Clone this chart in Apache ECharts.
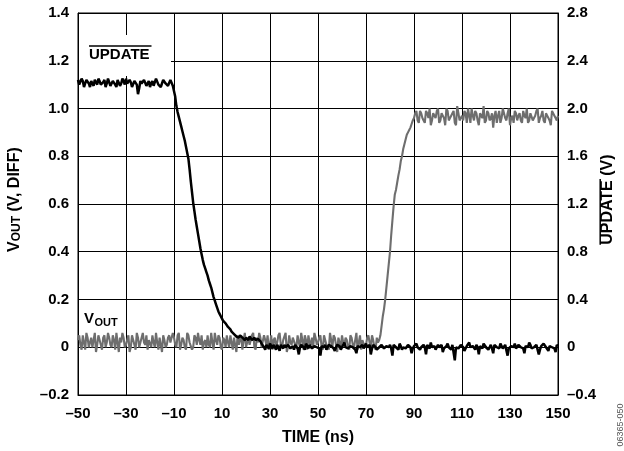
<!DOCTYPE html>
<html><head><meta charset="utf-8">
<script src="https://cdn.jsdelivr.net/npm/echarts/dist/echarts.min.js"></script>
<style>html,body{margin:0;padding:0;background:#fff}#c{width:624px;height:451px}</style>
</head><body><div id="c"></div>
<script>
// Sample times (ns), whole-ns samples
const timeNs = [
-50,-49,-48,-47,-46,-45,-44,-43,-42,-41,
-40,-39,-38,-37,-36,-35,-34,-33,-32,-31,
-30,-29,-28,-27,-26,-25,-24,-23,-22,-21,
-20,-19,-18,-17,-16,-15,-14,-13,-12,-11,
-10,-9,-8,-7,-6,-5,-4,-3,-2,-1,
0,1,2,3,4,5,6,7,8,9,
10,11,12,13,14,15,16,17,18,19,
20,21,22,23,24,25,26,27,28,29,
30,31,32,33,34,35,36,37,38,39,
40,41,42,43,44,45,46,47,48,49,
50,51,52,53,54,55,56,57,58,59,
60,61,62,63,64,65,66,67,68,69,
70,71,72,73,74,75,76,77,78,79,
80,81,82,83,84,85,86,87,88,89,
90,91,92,93,94,95,96,97,98,99,
100,101,102,103,104,105,106,107,108,109,
110,111,112,113,114,115,116,117,118,119,
120,121,122,123,124,125,126,127,128,129,
130,131,132,133,134,135,136,137,138,139,
140,141,142,143,144,145,146,147,148,149,
150];

// Sample times (ns), half-ns samples
const halfTimeNs = [
-49.5,-48.5,-47.5,-46.5,-45.5,-44.5,-43.5,-42.5,-41.5,-40.5,
-39.5,-38.5,-37.5,-36.5,-35.5,-34.5,-33.5,-32.5,-31.5,-30.5,
-29.5,-28.5,-27.5,-26.5,-25.5,-24.5,-23.5,-22.5,-21.5,-20.5,
-19.5,-18.5,-17.5,-16.5,-15.5,-14.5,-13.5,-12.5,-11.5,-10.5,
-9.5,-8.5,-7.5,-6.5,-5.5,-4.5,-3.5,-2.5,-1.5,-0.5,
0.5,1.5,2.5,3.5,4.5,5.5,6.5,7.5,8.5,9.5,
10.5,11.5,12.5,13.5,14.5,15.5,16.5,17.5,18.5,19.5,
20.5,21.5,22.5,23.5,24.5,25.5,26.5,27.5,28.5,29.5,
30.5,31.5,32.5,33.5,34.5,35.5,36.5,37.5,38.5,39.5,
40.5,41.5,42.5,43.5,44.5,45.5,46.5,47.5,48.5,49.5,
50.5,51.5,52.5,53.5,54.5,55.5,56.5,57.5,58.5,59.5,
60.5,61.5,62.5,63.5,64.5,65.5,66.5,67.5,68.5,69.5,
70.5,71.5,72.5,73.5,74.5,75.5,76.5,77.5,78.5,79.5,
80.5,81.5,82.5,83.5,84.5,85.5,86.5,87.5,88.5,89.5,
90.5,91.5,92.5,93.5,94.5,95.5,96.5,97.5,98.5,99.5,
100.5,101.5,102.5,103.5,104.5,105.5,106.5,107.5,108.5,109.5,
110.5,111.5,112.5,113.5,114.5,115.5,116.5,117.5,118.5,119.5,
120.5,121.5,122.5,123.5,124.5,125.5,126.5,127.5,128.5,129.5,
130.5,131.5,132.5,133.5,134.5,135.5,136.5,137.5,138.5,139.5,
140.5,141.5,142.5,143.5,144.5,145.5,146.5,147.5,148.5,149.5];

// VOUT (V, DIFF) - left axis, grey trace (whole-ns samples)
const voutDiff = [
0.03,0.01,0.05,-0.01,0.04,0.02,0.00,0.06,0.01,0.03,-0.01,0.05,0.02,0.04,0.00,0.03,0.06,-0.02,0.02,0.04,
0.01,0.05,0.00,0.03,-0.01,0.04,0.02,0.06,0.01,-0.01,0.03,0.05,0.00,0.02,0.04,-0.02,0.03,0.01,0.05,0.02,
0.04,0.00,0.06,0.01,0.03,-0.01,0.05,0.02,0.00,0.04,0.06,0.01,-0.01,0.03,0.05,0.00,0.02,0.06,0.01,0.04,
-0.01,0.03,0.05,0.00,0.02,0.04,-0.02,0.01,0.05,0.03,0.00,0.04,0.01,0.06,-0.01,0.02,0.04,0.00,0.03,0.05,
0.01,-0.01,0.04,0.02,0.06,0.00,0.03,-0.02,0.05,0.01,0.04,0.00,0.02,0.06,-0.01,0.03,0.05,0.01,0.00,0.04,
0.02,0.05,-0.01,0.03,0.01,0.06,0.00,0.04,-0.02,0.02,0.05,0.01,0.03,-0.01,0.04,0.00,0.06,0.02,-0.01,0.03,
0.01,0.05,0.00,0.03,-0.01,0.02,0.05,0.13,0.20,0.30,0.40,0.53,0.64,0.69,0.745,0.80,0.85,0.89,0.91,0.935,
0.96,0.99,0.94,0.98,0.95,0.99,0.96,0.93,0.98,0.96,1.00,0.95,0.97,0.93,0.99,0.96,0.98,0.94,1.01,0.95,
0.97,0.99,0.94,0.97,1.00,0.95,0.98,0.93,0.97,1.01,0.95,0.98,0.96,0.92,0.99,0.97,0.94,1.00,0.96,0.98,
0.93,0.97,0.99,0.95,0.98,0.94,0.97,1.00,0.95,0.98,0.96,0.99,0.94,0.97,0.95,0.98,0.96,0.93,0.99,0.96,0.97];

// VOUT (V, DIFF) - half-ns samples
const voutDiffHalf = [
0.05,-0.01,0.02,0.06,0.00,0.04,0.03,-0.02,0.05,0.01,0.04,0.00,0.06,0.01,0.05,-0.01,0.02,0.04,0.06,0.00,
0.03,-0.02,0.05,0.01,0.06,0.00,0.04,0.02,0.05,0.03,0.00,0.02,0.06,-0.01,0.01,0.05,0.00,0.04,0.02,0.06,
0.01,0.05,-0.01,0.04,0.00,0.06,0.02,-0.01,0.05,0.01,0.03,0.05,0.02,0.00,0.01,0.06,-0.01,0.03,0.05,0.00,
0.04,0.00,0.02,0.05,-0.01,0.01,0.05,0.03,-0.01,0.06,0.02,0.01,0.05,0.00,0.04,0.06,0.00,0.05,0.01,-0.01,
0.05,0.03,0.00,0.05,0.01,0.03,0.06,0.00,0.02,0.04,0.01,0.05,0.00,0.03,0.05,-0.01,0.02,0.04,0.06,0.01,
0.04,0.00,0.05,0.01,-0.01,0.03,0.05,0.01,0.04,0.00,0.02,0.04,0.00,0.05,0.01,0.03,-0.01,0.05,0.03,0.00,
0.04,0.02,0.05,0.00,0.04,0.03,0.09,0.16,0.25,0.35,0.47,0.59,0.66,0.72,0.78,0.83,0.87,0.90,0.92,0.95,
0.98,0.95,0.99,0.96,0.94,0.98,1.00,0.95,0.97,0.99,0.94,0.98,0.96,1.00,0.95,0.97,0.99,0.93,0.98,0.96,
0.95,0.98,1.00,0.94,0.97,0.99,0.95,0.98,0.96,0.94,0.99,0.95,0.98,0.97,0.94,0.99,0.96,0.98,0.95,1.00,
0.96,0.94,0.98,0.97,0.95,0.99,0.96,0.94,0.98,0.95,0.97,1.00,0.96,0.99,0.94,0.97,0.95,0.99,0.97,0.95];

// UPDATE (V) - right axis, black trace (whole-ns samples)
const updateV = [
2.24,2.19,2.23,2.21,2.25,2.18,2.22,2.24,2.20,2.23,2.19,2.24,2.21,2.25,2.20,2.22,2.18,2.24,2.21,2.23,
2.25,2.20,2.22,2.19,2.24,2.12,2.23,2.20,2.25,2.21,2.18,2.23,2.20,2.24,2.21,2.19,2.25,2.22,2.20,2.23,
2.18,2.02,1.93,1.85,1.77,1.68,1.58,1.39,1.21,1.07,0.95,0.83,0.73,0.66,0.60,0.53,0.46,0.39,0.33,0.28,
0.24,0.21,0.19,0.16,0.13,0.11,0.09,0.08,0.09,0.07,0.08,0.06,0.08,0.07,0.06,0.07,0.05,0.02,-0.02,0.01,
0.03,-0.01,0.00,0.02,-0.03,0.01,0.02,-0.01,0.03,0.00,-0.02,0.01,-0.06,0.02,0.00,0.03,-0.01,0.01,-0.02,0.02,
0.00,-0.07,0.01,0.02,-0.01,0.03,0.00,-0.03,0.02,0.01,-0.01,0.04,0.00,-0.02,0.02,0.01,-0.05,0.02,0.00,-0.01,
0.03,0.01,-0.06,0.02,0.00,-0.02,0.01,0.03,-0.01,0.00,0.02,-0.07,0.01,0.00,0.03,-0.02,0.01,0.00,0.02,-0.05,
0.01,0.03,-0.01,0.00,0.02,-0.06,0.01,0.04,0.00,-0.02,0.02,0.01,-0.04,0.00,0.03,-0.01,0.02,-0.11,0.01,0.00,
0.02,-0.03,0.01,0.04,-0.01,0.00,0.02,-0.06,0.01,0.03,0.00,-0.02,0.02,-0.05,0.01,0.00,0.03,-0.01,0.02,-0.07,
0.00,0.01,0.03,-0.02,0.01,0.00,-0.05,0.02,0.04,-0.01,0.00,0.02,-0.06,0.01,0.03,0.00,-0.03,0.02,0.00,-0.04,0.01];

// UPDATE (V) - half-ns samples
const updateVHalf = [
2.20,2.25,2.18,2.24,2.21,2.23,2.19,2.22,2.25,2.20,2.22,2.18,2.25,2.19,2.23,2.20,2.24,2.19,2.25,2.20,
2.21,2.24,2.18,2.23,2.20,2.17,2.21,2.24,2.19,2.23,2.21,2.19,2.25,2.20,2.18,2.24,2.21,2.19,2.24,2.19,
2.10,1.97,1.89,1.81,1.73,1.63,1.49,1.30,1.14,1.01,0.89,0.78,0.69,0.63,0.56,0.50,0.42,0.36,0.30,0.26,
0.22,0.20,0.17,0.15,0.12,0.10,0.08,0.10,0.08,0.06,0.07,0.09,0.06,0.08,0.05,0.06,0.03,0.00,0.02,-0.01,
0.01,0.02,-0.02,0.00,0.02,-0.01,0.00,0.02,-0.01,0.01,0.02,-0.01,0.00,0.01,-0.02,0.01,0.02,-0.01,0.01,0.00,
-0.01,0.01,0.00,-0.02,0.02,0.01,-0.01,0.00,0.01,-0.02,0.02,0.00,-0.01,0.01,0.00,-0.02,0.01,0.00,0.02,-0.01,
0.00,0.02,-0.01,0.01,-0.02,0.00,0.02,-0.01,0.01,0.00,-0.01,0.02,0.00,-0.02,0.01,0.00,-0.01,0.02,0.00,-0.01,
0.02,0.00,-0.02,0.01,0.00,0.02,-0.01,0.00,0.01,-0.01,0.00,0.02,-0.01,0.01,0.00,-0.02,0.01,0.00,-0.01,0.02,
0.00,-0.01,0.02,0.00,0.01,-0.02,0.00,0.01,-0.01,0.02,0.01,0.00,-0.01,0.02,0.00,-0.01,0.01,0.00,0.02,-0.01,
0.01,0.00,-0.01,0.02,0.00,-0.01,0.01,0.00,0.02,-0.01,0.00,0.01,-0.02,0.00,0.02,-0.01,0.01,0.00,-0.01,0.02];

const xTickValues = [-50,-30,-10,10,30,50,70,90,110,130,150];
const xTickLabels = ['\u201350','\u201330','\u201310','10','30','50','70','90','110','130','150'];
const leftTickLabels = ['\u20130.2','0','0.2','0.4','0.6','0.8','1.0','1.2','1.4'];
const rightTickLabels = ['\u20130.4','0','0.4','0.8','1.2','1.6','2.0','2.4','2.8'];

const FONT = '"Liberation Sans", Arial, sans-serif';
const X_MIN = -50, X_MAX = 150;
const L_MIN = -0.2, L_MAX = 1.4, L_STEP = 0.2;
const R_MIN = -0.4, R_MAX = 2.8, R_STEP = 0.4;

function merge(tA, vA, tB, vB) {
  const pts = tA.map((t, i) => [t, vA[i]]).concat(tB.map((t, i) => [t, vB[i]]));
  pts.sort((a, b) => a[0] - b[0]);
  return pts;
}
const voutData = merge(timeNs, voutDiff, halfTimeNs, voutDiffHalf);
const updateData = merge(timeNs, updateV, halfTimeNs, updateVHalf);

const tickLabelStyle = { color: '#000', fontFamily: FONT, fontWeight: 'bold', fontSize: 15 };
const axisLineStyle = { show: true, onZero: false, lineStyle: { color: '#000', width: 1 } };

const chart = echarts.init(document.getElementById('c'), null, { renderer: 'canvas' });
chart.setOption({
  animation: false,
  backgroundColor: '#fff',
  grid: { left: 78, right: 66, top: 13, bottom: 55, show: true, borderColor: '#000', borderWidth: 1, backgroundColor: 'transparent' },
  xAxis: {
    type: 'value', min: X_MIN, max: X_MAX,
    name: 'TIME (ns)', nameLocation: 'middle', nameGap: 35,
    nameTextStyle: { color: '#000', fontFamily: FONT, fontWeight: 'bold', fontSize: 16 },
    axisLine: axisLineStyle,
    axisTick: { show: false, customValues: xTickValues },
    axisLabel: Object.assign({ margin: 11, customValues: xTickValues, formatter: v => xTickLabels[xTickValues.indexOf(v)] }, tickLabelStyle),
    splitLine: { show: true, lineStyle: { color: '#000', width: 1 } }
  },
  yAxis: [{
    type: 'value', min: L_MIN, max: L_MAX, interval: L_STEP, position: 'left',
    axisLine: axisLineStyle,
    axisTick: { show: false },
    axisLabel: Object.assign({ margin: 9, formatter: v => leftTickLabels[Math.round((v - L_MIN) / L_STEP)] }, tickLabelStyle),
    splitLine: { show: true, lineStyle: { color: '#000', width: 1 } }
  }, {
    type: 'value', min: R_MIN, max: R_MAX, interval: R_STEP, position: 'right',
    axisLine: axisLineStyle,
    axisTick: { show: false },
    axisLabel: Object.assign({ margin: 9, formatter: v => rightTickLabels[Math.round((v - R_MIN) / R_STEP)] }, tickLabelStyle),
    splitLine: { show: false }
  }],
  series: [{
    name: 'VOUT', type: 'line', yAxisIndex: 0, data: voutData, showSymbol: false, z: 3,
    lineStyle: { color: '#6e6e6e', width: 2.1 }
  }, {
    name: 'UPDATE', type: 'line', yAxisIndex: 1, data: updateData, showSymbol: false, z: 4,
    lineStyle: { color: '#000', width: 2.5 }
  }],
  graphic: [
    { type: 'rect', z: 1, shape: { x: 79, y: 35, width: 92, height: 41 }, style: { fill: '#fff' } },
    { type: 'text', z: 5, x: 89, y: 54.7, style: { text: 'UPDATE', fill: '#000', font: 'bold 15px ' + FONT, textAlign: 'left', textVerticalAlign: 'middle' } },
    { type: 'line', z: 5, shape: { x1: 89, y1: 46, x2: 151.5, y2: 46 }, style: { stroke: '#000', lineWidth: 1.5 } },
    { type: 'text', z: 5, x: 84, y: 318.7, style: { text: 'V', fill: '#000', font: 'bold 15px ' + FONT, textAlign: 'left', textVerticalAlign: 'middle' } },
    { type: 'text', z: 5, x: 94.5, y: 322.5, style: { text: 'OUT', fill: '#000', font: 'bold 11px ' + FONT, textAlign: 'left', textVerticalAlign: 'middle' } },
    { type: 'group', x: 14.5, y: 198.5, rotation: Math.PI / 2, children: [
      { type: 'text', x: -53.5, y: 0, style: { text: 'V', fill: '#000', font: 'bold 16px ' + FONT, textAlign: 'left', textVerticalAlign: 'middle' } },
      { type: 'text', x: -42.8, y: 2.3, style: { text: 'OUT', fill: '#000', font: 'bold 12px ' + FONT, textAlign: 'left', textVerticalAlign: 'middle' } },
      { type: 'text', x: -17.5, y: 0, style: { text: ' (V, DIFF)', fill: '#000', font: 'bold 16px ' + FONT, textAlign: 'left', textVerticalAlign: 'middle' } }
    ]},
    { type: 'group', x: 608, y: 199, rotation: Math.PI / 2, children: [
      { type: 'text', x: -45.8, y: 0, style: { text: 'UPDATE (V)', fill: '#000', font: 'bold 16px ' + FONT, textAlign: 'left', textVerticalAlign: 'middle' } },
      { type: 'line', shape: { x1: -45.8, y1: -7.8, x2: 20, y2: -7.8 }, style: { stroke: '#000', lineWidth: 1.5 } }
    ]},
    { type: 'group', x: 621, y: 425, rotation: Math.PI / 2, children: [
      { type: 'text', x: 0, y: 0, style: { text: '06365-050', fill: '#555', font: '9px ' + FONT, textAlign: 'center', textVerticalAlign: 'middle' } }
    ]}
  ]
});
</script>
</body></html>
